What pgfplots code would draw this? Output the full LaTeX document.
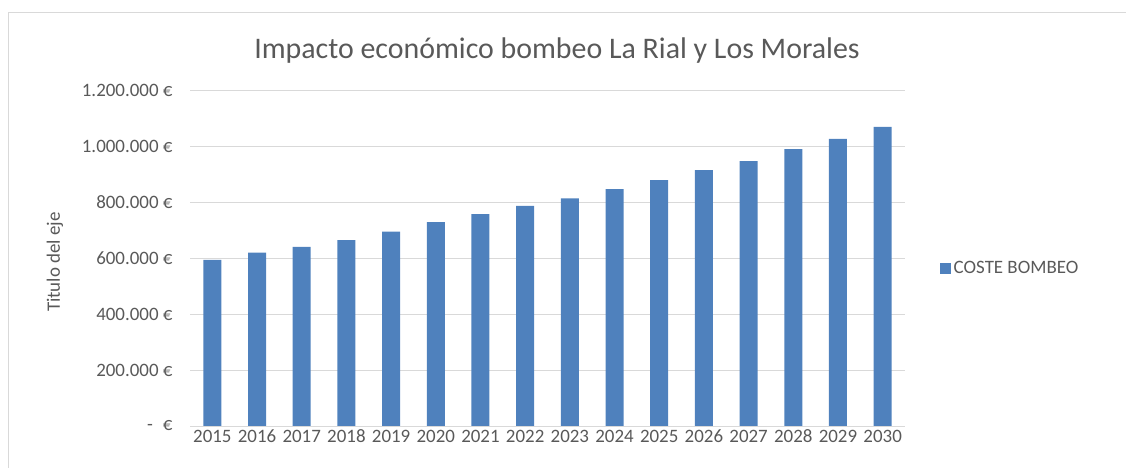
\documentclass[border=0pt]{standalone}
\usepackage{pgfplots}
\pgfplotsset{compat=1.18}
\usepackage{fontspec}
\setmainfont{Carlito}
\definecolor{barblue}{HTML}{4F81BD}
\definecolor{txtgray}{HTML}{595959}
\definecolor{gridgray}{HTML}{D9D9D9}
\begin{document}
\begin{tikzpicture}[x=1bp,y=1bp]
\path[use as bounding box] (0,0) rectangle (1126,468);
\draw[gridgray,line width=0.8bp] (8,-2) -- (8,456) -- (1130,456);
\node[txtgray,font=\fontsize{30}{33}\selectfont] at (557,417) {Impacto económico bombeo La Rial y Los Morales};
\begin{axis}[
  at={(190bp,42bp)}, anchor=south west,
  scale only axis, width=715bp, height=336bp,
  xmin=-0.5, xmax=15.5, ymin=0, ymax=1200000,
  scaled y ticks=false,
  ybar, bar width=18bp,
  xtick={0,...,15},
  xticklabels={2015,2016,2017,2018,2019,2020,2021,2022,2023,2024,2025,2026,2027,2028,2029,2030},
  ytick={0,200000,400000,600000,800000,1000000,1200000},
  yticklabels={{-\hspace{10bp}€},{200.000 €},{400.000 €},{600.000 €},{800.000 €},{1.000.000 €},{1.200.000 €}},
  /pgf/number format/assume math mode=true,
  ticklabel style={font=\fontsize{19}{21}\selectfont, text=txtgray},
  xticklabel style={text height=12bp, text depth=0bp, anchor=north, yshift=-1bp},
  yticklabel style={xshift=-14bp},
  major tick length=0pt,
  ymajorgrids, grid style={gridgray, line width=0.8bp},
  axis line style={draw=none},
  ylabel={Titulo del eje},
  ylabel style={font=\fontsize{19}{21}\selectfont, text=txtgray, yshift=12bp, xshift=-4bp},
  legend style={at={(rel axis cs:1.049,0.47)}, anchor=west, draw=none, fill=none,
    font=\fontsize{19}{21}\selectfont, text=txtgray, inner xsep=0pt,
    nodes={inner xsep=2.5bp}},
  legend image code/.code={\fill[barblue] (0bp,-5.5bp) rectangle (11bp,5.5bp);},
]
\addplot[fill=barblue, draw=none] coordinates {
(0,593000) (1,619000) (2,640000) (3,664000) (4,694000) (5,728000) (6,757000) (7,786000)
(8,813000) (9,846000) (10,878000) (11,914000) (12,946000) (13,989000) (14,1025000) (15,1068000)};
\legend{COSTE BOMBEO}
\end{axis}
\end{tikzpicture}
\end{document}
